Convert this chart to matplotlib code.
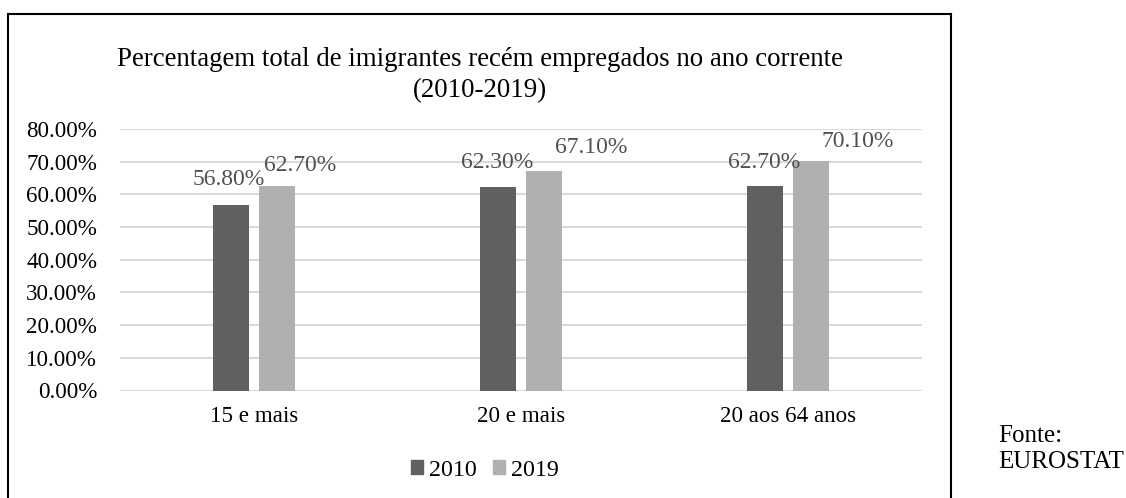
#Percentagem de imigrantes recem empregados - EUROSTAT
import numpy as np
import matplotlib
matplotlib.use('Agg')
import matplotlib.pyplot as plt
from matplotlib.patches import Patch, Rectangle
import matplotlib.ticker as ticker

plt.rcParams['font.family'] = ['Liberation Serif', 'DejaVu Serif']

#data
categorias = ['15 e mais', '20 e mais', '20 aos 64 anos']
anos = ['2010', '2019']
v2010 = [0.568, 0.623, 0.627]
v2019 = [0.627, 0.671, 0.701]

#label offsets (pixels) from top centre of each bar, as in the original
off2010 = [(-2, 25), (-1, 24), (-1, 23)]
off2019 = [(23, 20), (47, 24), (46, 20)]

W, H = 1126, 498
fig = plt.figure(figsize=(W/100, H/100), dpi=100)
ax = fig.add_axes([120/W, 1-390.5/H, (922-120)/W, (390.5-129)/H])

fs = 16.6
c1 = '#606060'
c2 = '#b0b0b0'
x = np.arange(len(categorias))
bw = 0.135
d = 0.086
b1 = ax.bar(x-d, v2010, bw, color=c1, zorder=3)
b2 = ax.bar(x+d, v2019, bw, color=c2, zorder=3)

for bars, offs in ((b1, off2010), (b2, off2019)):
    for b, o in zip(bars, offs):
        ax.annotate('{:.2f}%'.format(b.get_height()*100),
                    (b.get_x()+b.get_width()/2, b.get_height()),
                    xytext=o, textcoords='offset pixels',
                    ha='center', va='center', fontsize=17, color='#505050', zorder=4)

ax.set_ylim(0, 0.8)
ax.set_xlim(-0.5, 2.5)
ax.yaxis.set_major_locator(ticker.MultipleLocator(0.1))
ax.yaxis.set_major_formatter(ticker.FuncFormatter(lambda v, p: '{:.2f}%'.format(v*100)))
ax.set_xticks(x)
ax.set_xticklabels(categorias)
ax.tick_params(axis='y', length=0, pad=16.5, labelsize=fs)
ax.tick_params(axis='x', length=0, pad=11, labelsize=fs)
ax.grid(axis='y', color='#d9d9d9', linewidth=1.5, zorder=0)
for s in ax.spines.values():
    s.set_visible(False)
ax.axhline(0, color='#d9d9d9', linewidth=1.5, zorder=2)

fig.text(480/W, 1-59/H, 'Percentagem total de imigrantes recém empregados no ano corrente',
         ha='center', va='center', fontsize=19.4)
fig.text(480/W, 1-91/H, '(2010-2019)', ha='center', va='center', fontsize=19.4)

handles = [Patch(color=c1), Patch(color=c2)]
fig.legend(handles, anos, loc='center', bbox_to_anchor=(485/W, 1-470/H), ncol=2,
           frameon=False, fontsize=17.3, handlelength=0.5, handleheight=0.5,
           handletextpad=0.25, columnspacing=0.7)

#border of the chart box (open at the bottom)
fig.add_artist(Rectangle((8/W, -0.1), (951-8)/W, 1.1-14/H, transform=fig.transFigure,
                         fill=False, edgecolor='black', linewidth=1.5))

fig.text(998/W, 1-442/H, 'Fonte:', ha='left', va='baseline', fontsize=18)
fig.text(998/W, 1-468/H, 'EUROSTAT', ha='left', va='baseline', fontsize=18)

fig.savefig('out.png', dpi=100)
